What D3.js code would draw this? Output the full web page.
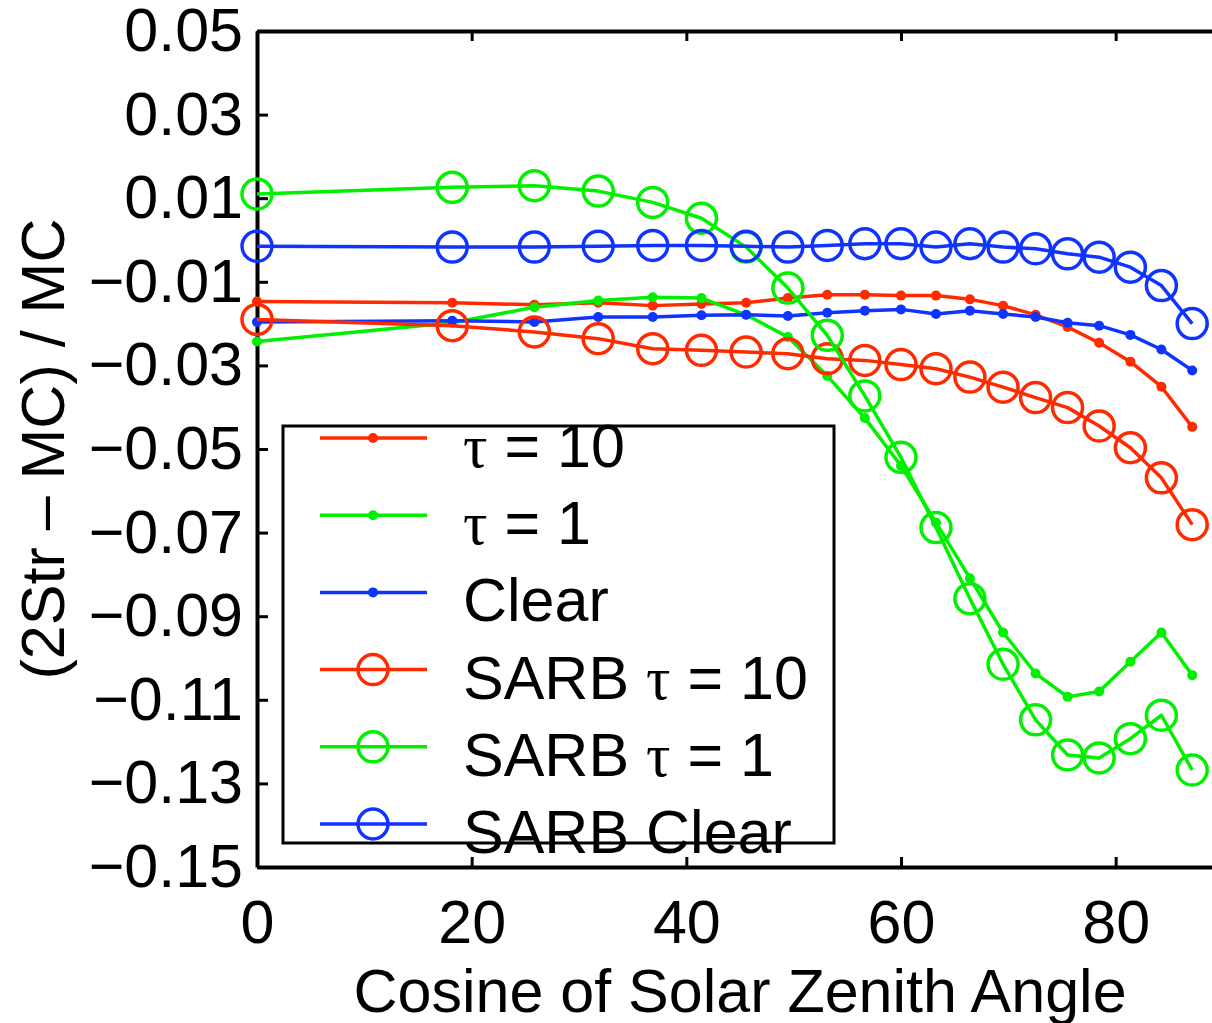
<!DOCTYPE html>
<html>
<head>
<meta charset="utf-8">
<script src="https://cdn.jsdelivr.net/npm/d3@7"></script>
<style>
  body { margin: 0; background: #fff; }
  svg { display: block; font-family: "Liberation Sans", Arial, sans-serif; }
</style>
</head>
<body>
<svg width="1212" height="1023"></svg>
<script>
// solar zenith angle (deg) for cos = 1.00, 0.95 ... 0.05
var angles = [0, 18.19, 25.84, 31.79, 36.87, 41.41, 45.57, 49.46, 53.13, 56.63,
  60, 63.26, 66.42, 69.51, 72.54, 75.52, 78.46, 81.37, 84.26, 87.13];

var tau10 = [-0.0147, -0.0150, -0.0155, -0.0150, -0.0157, -0.0153, -0.0150, -0.0139, -0.0131, -0.0131,
  -0.0133, -0.0133, -0.0142, -0.0157, -0.0179, -0.0208, -0.0246, -0.0291, -0.0351, -0.0447];
var tau1 = [-0.0243, -0.0198, -0.0161, -0.0145, -0.0137, -0.0139, -0.0179, -0.0232, -0.0325, -0.0426,
  -0.0540, -0.0676, -0.0809, -0.0939, -0.1037, -0.1093, -0.1080, -0.1009, -0.0939, -0.1041];
var clear = [-0.0196, -0.0193, -0.0196, -0.0184, -0.0184, -0.0180, -0.0179, -0.0182, -0.0174, -0.0169,
  -0.0166, -0.0177, -0.0169, -0.0177, -0.0184, -0.0198, -0.0205, -0.0227, -0.0262, -0.0312];
var sarbTau10 = [-0.0190, -0.0205, -0.0220, -0.0236, -0.0260, -0.0264, -0.0268, -0.0272, -0.0284, -0.0288,
  -0.0298, -0.0308, -0.0328, -0.0352, -0.0377, -0.0401, -0.0445, -0.0497, -0.0569, -0.0681];
var sarbTau1 = [0.0110, 0.0126, 0.0130, 0.0117, 0.0090, 0.0052, -0.0017, -0.0115, -0.0228, -0.0373,
  -0.0520, -0.0688, -0.0858, -0.1015, -0.1148, -0.1232, -0.1239, -0.1193, -0.1137, -0.1268];
var sarbClear = [-0.0015, -0.0017, -0.0017, -0.0015, -0.0013, -0.0013, -0.0015, -0.0017, -0.0013, -0.0009,
  -0.0009, -0.0017, -0.0009, -0.0017, -0.0021, -0.0033, -0.0041, -0.0065, -0.0109, -0.0200];

var xTicks = [0, 20, 40, 60, 80];
var yTicks = [0.05, 0.03, 0.01, -0.01, -0.03, -0.05, -0.07, -0.09, -0.11, -0.13, -0.15];

var seriesNames = ["\u03c4 = 10", "\u03c4 = 1", "Clear", "SARB \u03c4 = 10", "SARB \u03c4 = 1", "SARB Clear"];
var seriesValues = [tau10, tau1, clear, sarbTau10, sarbTau1, sarbClear];
var seriesColors = ["#ff2a00", "#00f000", "#1034ff", "#ff2a00", "#00f000", "#1034ff"];
var seriesMarkers = ["dot", "dot", "dot", "circle", "circle", "circle"];

var svg = d3.select("svg");
var fontSize = 61;

var margin = { left: 257, top: 31, right: 1223, bottom: 867 };

var x = d3.scaleLinear().domain([0, 90]).range([margin.left, margin.right]);
var y = d3.scaleLinear().domain([-0.15, 0.05]).range([margin.bottom, margin.top]);

var fmt = function(d) {
  var s = Math.abs(d).toFixed(2);
  return d < 0 ? "\u2212" + s : s;
};

// axes
var xAxis = d3.axisBottom(x).tickValues(xTicks).tickSize(-10).tickSizeOuter(0).tickPadding(33);
var yAxis = d3.axisLeft(y).tickValues(yTicks).tickSize(-11).tickSizeOuter(0).tickPadding(14).tickFormat(fmt);

var gx = svg.append("g").attr("transform", "translate(0," + margin.bottom + ")").call(xAxis);
var gy = svg.append("g").attr("transform", "translate(" + margin.left + ",0)").call(yAxis);

// top ticks (box on)
var gt = svg.append("g").attr("transform", "translate(0," + margin.top + ")")
  .call(d3.axisTop(x).tickValues(xTicks).tickSize(-10).tickSizeOuter(0).tickFormat(""));

[gx, gy, gt].forEach(function(g) {
  g.select(".domain").attr("stroke", "#000").attr("stroke-width", 4);
  g.selectAll(".tick line").attr("stroke", "#000").attr("stroke-width", 3);
  g.selectAll(".tick text").attr("fill", "#000")
    .style("font-size", fontSize + "px")
    .style("font-family", "'Liberation Sans', Arial, sans-serif");
});

// axis labels
svg.append("text")
  .attr("x", (margin.left + margin.right) / 2)
  .attr("y", 1012)
  .attr("text-anchor", "middle")
  .style("font-size", fontSize + "px")
  .text("Cosine of Solar Zenith Angle");

svg.append("text")
  .attr("transform", "translate(64," + (margin.top + margin.bottom) / 2 + ") rotate(-90)")
  .attr("text-anchor", "middle")
  .style("font-size", fontSize + "px")
  .text("(2Str \u2013 MC) / MC");

// data
var line = d3.line()
  .x(function(d) { return x(d[0]); })
  .y(function(d) { return y(d[1]); });

var plot = svg.append("g").attr("id", "plot");

seriesValues.forEach(function(vals, i) {
  var pts = angles.map(function(a, j) { return [a, vals[j]]; });
  var g = plot.append("g");
  g.append("path")
    .datum(pts)
    .attr("d", line)
    .attr("fill", "none")
    .attr("stroke", seriesColors[i])
    .attr("stroke-width", 3.5)
    .attr("stroke-linejoin", "round");
  var m = g.selectAll("circle").data(pts).enter().append("circle")
    .attr("cx", function(d) { return x(d[0]); })
    .attr("cy", function(d) { return y(d[1]); });
  if (seriesMarkers[i] == "dot") {
    m.attr("r", 5).attr("fill", seriesColors[i]);
  } else {
    m.attr("r", 15).attr("fill", "none").attr("stroke", seriesColors[i]).attr("stroke-width", 3.5);
  }
});

// legend
var legend = svg.append("g").attr("id", "legend");
legend.append("rect")
  .attr("x", 283).attr("y", 426)
  .attr("width", 551).attr("height", 417)
  .attr("fill", "#fff")
  .attr("stroke", "#000")
  .attr("stroke-width", 3);

var rowY = d3.scaleLinear().domain([0, 5]).range([438, 824]);

seriesNames.forEach(function(name, i) {
  var ry = rowY(i);
  var row = legend.append("g");
  row.append("line")
    .attr("x1", 320).attr("x2", 427)
    .attr("y1", ry).attr("y2", ry)
    .attr("stroke", seriesColors[i])
    .attr("stroke-width", 3.5);
  var mk = row.append("circle").attr("cx", 373).attr("cy", ry);
  if (seriesMarkers[i] == "dot") {
    mk.attr("r", 5).attr("fill", seriesColors[i]);
  } else {
    mk.attr("r", 15).attr("fill", "none").attr("stroke", seriesColors[i]).attr("stroke-width", 3.5);
  }
  var t = row.append("text")
    .attr("x", 463).attr("y", ry + 29)
    .style("font-size", fontSize + "px");
  name.split(/(\u03c4)/).forEach(function(part) {
    if (part == "") return;
    var ts = t.append("tspan").text(part);
    if (part == "\u03c4") ts.style("font-family", "'Liberation Serif', 'DejaVu Serif', serif");
  });
});
</script>
</body>
</html>
